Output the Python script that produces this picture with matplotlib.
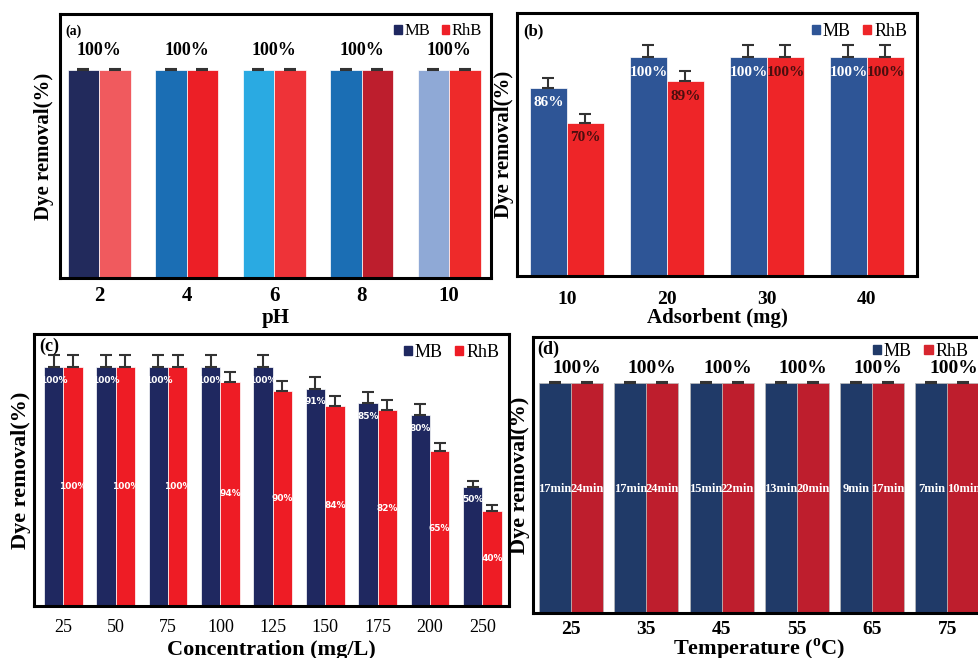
import matplotlib.pyplot as plt
import numpy as np
from matplotlib.patches import Patch

# --- datos ---
ph = ['2', '4', '6', '8', '10']
ph_mb = [100, 100, 100, 100, 100]
ph_rhb = [100, 100, 100, 100, 100]
ph_err = [0.4, 0.4, 0.4, 0.4, 0.4]

ads = ['10', '20', '30', '40']
ads_mb = [86, 100, 100, 100]
ads_rhb = [70, 89, 100, 100]
ads_mb_err = [4.5, 5.5, 5.5, 5.5]
ads_rhb_err = [3.7, 4.5, 5.5, 5.5]

conc = ['25', '50', '75', '100', '125', '150', '175', '200', '250']
conc_mb = [100, 100, 100, 100, 100, 91, 85, 80, 50]
conc_rhb = [100, 100, 100, 94, 90, 84, 82, 65, 40]
conc_mb_err = [5, 5, 5, 5, 5, 5, 4.6, 4.6, 2.5]
conc_rhb_err = [5, 5, 5, 4.2, 4.2, 4.2, 4.2, 3.4, 2.5]

temp = ['25', '35', '45', '55', '65', '75']
temp_mb = [100, 100, 100, 100, 100, 100]
temp_rhb = [100, 100, 100, 100, 100, 100]
temp_mb_time = ['17min', '17min', '15min', '13min', '9min', '7min']
temp_rhb_time = ['24min', '24min', '22min', '20min', '17min', '10min']

plt.rcParams['font.family'] = 'Liberation Serif'
plt.rcParams['font.weight'] = 'bold'
plt.rcParams['axes.labelweight'] = 'bold'
plt.rcParams['mathtext.fontset'] = 'custom'
plt.rcParams['mathtext.rm'] = 'Liberation Serif:bold'
plt.rcParams['mathtext.bf'] = 'Liberation Serif:bold'

W, H = 979, 658
fig = plt.figure(figsize=(W / 100, H / 100), dpi=100)


def make_ax(l, r, t, b):
    ax = fig.add_axes([l / W, 1 - b / H, (r - l) / W, (b - t) / H])
    for s in ax.spines.values():
        s.set_linewidth(2.2)
    ax.set_yticks([])
    ax.tick_params(axis='x', length=0)
    return ax


def legend(ax, c_mb, c_rhb, fs):
    h = [Patch(color=c_mb, label='MB'), Patch(color=c_rhb, label='RhB')]
    return ax.legend(handles=h, loc='upper right', ncol=2, frameon=False,
                     handlelength=0.45, handleheight=0.45, handletextpad=0.15,
                     columnspacing=0.7, borderaxespad=0.15,
                     prop={'family': 'Liberation Serif', 'weight': 'normal', 'size': fs})


def errs(ax, x, vals, e):
    ax.errorbar(x, vals, yerr=[np.zeros(len(vals)), e], fmt='none',
                ecolor='#333333', elinewidth=1.5, capsize=4, capthick=1.5)


# --- (a) pH ---
ax = make_ax(60, 491, 14, 278)
x = np.arange(len(ph))
w = 0.36
mb_cols = ['#222A5C', '#1B6EB4', '#2AAAE2', '#1B6EB4', '#8FA9D6']
rhb_cols = ['#F05A5E', '#EC1F26', '#EE3338', '#BD1E2D', '#EE2A2A']
ax.bar(x - w / 2, ph_mb, w, color=mb_cols, edgecolor='white', linewidth=0.5)
ax.bar(x + w / 2, ph_rhb, w, color=rhb_cols, edgecolor='white', linewidth=0.5)
errs(ax, x - w / 2, ph_mb, ph_err)
errs(ax, x + w / 2, ph_rhb, ph_err)
for i in x:
    ax.text(i, 109.6, '100%', ha='center', va='center', fontsize=13)
ax.set_xlim(-0.446, 4.48)
ax.set_ylim(0, 127)
ax.set_xticks(x, ph, fontsize=15)
ax.tick_params(axis='x', pad=6)
ax.set_xlabel('pH', fontsize=15, labelpad=1)
ax.set_ylabel('Dye removal(%)', fontsize=15, labelpad=4)
ax.text(0.012, 0.96, '(a)', transform=ax.transAxes, fontsize=10, va='top')
legend(ax, '#1F2860', '#EE2028', 12)

# --- (b) Adsorbent ---
ax = make_ax(517, 917, 13, 276)
x = np.arange(len(ads))
w = 0.37
ax.bar(x - w / 2, ads_mb, w, color='#2E5596', edgecolor='white', linewidth=0.5)
ax.bar(x + w / 2, ads_rhb, w, color='#EE2528', edgecolor='white', linewidth=0.5)
errs(ax, x - w / 2, ads_mb, ads_mb_err)
errs(ax, x + w / 2, ads_rhb, ads_rhb_err)
for i in x:
    ax.text(i - w / 2, ads_mb[i] - 7, f'{ads_mb[i]}%', ha='center', va='center',
            fontsize=11, color='white')
    ax.text(i + w / 2, ads_rhb[i] - 7, f'{ads_rhb[i]}%', ha='center', va='center',
            fontsize=11, color='#4A0E0E')
ax.set_xlim(-0.5, 3.5)
ax.set_ylim(0, 120)
ax.set_xticks(x, ads, fontsize=14)
ax.tick_params(axis='x', pad=11)
ax.set_xlabel('Adsorbent (mg)', fontsize=15, labelpad=0)
ax.set_ylabel('Dye removal(%)', fontsize=15, labelpad=2)
ax.text(0.015, 0.96, '(b)', transform=ax.transAxes, fontsize=12, va='top')
legend(ax, '#2E5596', '#EE2528', 13)

# --- (c) Concentration ---
ax = make_ax(34, 509, 334, 606)
x = np.arange(len(conc))
w = 0.37
ax.bar(x - w / 2, conc_mb, w, color='#1F2860', edgecolor='white', linewidth=0.5)
ax.bar(x + w / 2, conc_rhb, w, color='#EE1C25', edgecolor='white', linewidth=0.5)
errs(ax, x - w / 2, conc_mb, conc_mb_err)
errs(ax, x + w / 2, conc_rhb, conc_rhb_err)
for i in x:
    ax.text(i - w / 2, conc_mb[i] - 5.5, f'{conc_mb[i]}%', ha='center', va='center',
            fontsize=6.5, color='white', family='DejaVu Sans', weight='bold')
    ax.text(i + w / 2, conc_rhb[i] / 2, f'{conc_rhb[i]}%', ha='center', va='center',
            fontsize=6.5, color='white', family='DejaVu Sans', weight='bold')
ax.set_xlim(-0.56, 8.51)
ax.set_ylim(0, 114)
ax.set_xticks(x, conc, fontsize=13, weight='normal')
ax.tick_params(axis='x', pad=9)
ax.set_xlabel('Concentration (mg/L)', fontsize=16, labelpad=3)
ax.set_ylabel('Dye removal(%)', fontsize=16, labelpad=2)
ax.text(0.012, 0.985, '(c)', transform=ax.transAxes, fontsize=13, va='top')
legend(ax, '#1F2860', '#EE1C25', 13)

# --- (d) Temperature ---
ax = make_ax(533, 985, 337, 613)
x = np.arange(len(temp))
w = 0.425
ax.bar(x - w / 2, temp_mb, w, color='#203A68', edgecolor='#BBBBBB', linewidth=0.5)
ax.bar(x + w / 2, temp_rhb, w, color='#BE1E2D', edgecolor='#BBBBBB', linewidth=0.5)
errs(ax, x - w / 2, temp_mb, [0.4] * len(temp))
errs(ax, x + w / 2, temp_rhb, [0.4] * len(temp))
for i in x:
    ax.text(i + 0.08, 106.5, '100%', ha='center', va='center', fontsize=14)
    ax.text(i - w / 2, 54, temp_mb_time[i], ha='center', va='center',
            fontsize=9, color='white')
    ax.text(i + w / 2, 54, temp_rhb_time[i], ha='center', va='center',
            fontsize=9, color='white')
ax.set_xlim(-0.505, 5.5)
ax.set_ylim(0, 120)
ax.set_xticks(x, temp, fontsize=14)
ax.tick_params(axis='x', pad=6)
ax.set_xlabel(r'Temperature ($^{\mathrm{o}}$C)', fontsize=16, labelpad=-1)
ax.set_ylabel('Dye removal(%)', fontsize=16, labelpad=2)
ax.text(0.01, 0.985, '(d)', transform=ax.transAxes, fontsize=13, va='top')
lg = legend(ax, '#203A68', '#D7262F', 13)
lg.set_bbox_to_anchor((0.985, 1.015), transform=ax.transAxes)

fig.savefig('out.png', dpi=100)
